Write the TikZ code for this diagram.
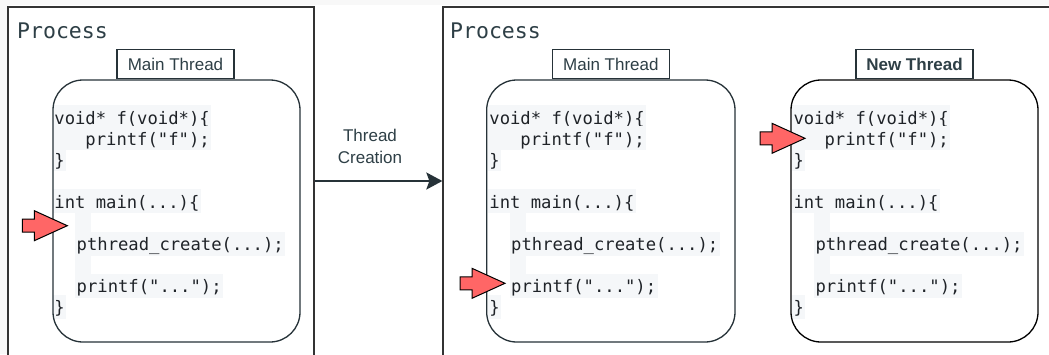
\documentclass[tikz,border=0pt]{standalone}
\usepackage{fontspec}
\newfontfamily\codefont{DejaVu Sans Mono}
\newfontfamily\labelfont{Liberation Sans}
\usetikzlibrary{arrows.meta}

\definecolor{pagegray}{HTML}{F8F8F8}
\definecolor{framegray}{HTML}{333333}
\definecolor{slate}{HTML}{2E3F46}
\definecolor{slateline}{HTML}{263238}
\definecolor{codebg}{HTML}{F5F7F9}
\definecolor{codeink}{HTML}{1F2328}
\definecolor{pointred}{HTML}{FF6666}

\tikzset{
  procframe/.style={draw=framegray, line width=1.3pt, fill=white, inner sep=0pt},
  proctitle/.style={font=\codefont\fontsize{21.5}{24}\selectfont, text=slate, inner sep=0pt, anchor=base west},
  code/.style={font=\codefont\fontsize{17.2}{21}\selectfont, text=codeink, fill=codebg,
    inner xsep=1.5pt, inner ysep=0pt, text height=19pt, text depth=5pt, anchor=base west},
  threadbox/.style={draw=slateline, line width=1.3pt, rounded corners=30pt,
    minimum width=247pt, minimum height=262pt, inner sep=0pt},
  threadlabel/.style={draw=slateline, line width=1.2pt, fill=white, text=slate,
    font=\labelfont\fontsize{17}{20}\selectfont, minimum width=117pt, minimum height=29pt,
    inner sep=0pt, anchor=south},
  caption/.style={font=\labelfont\fontsize{17}{22}\selectfont, text=slate, align=center, inner sep=0pt},
  flow/.style={draw=slateline, line width=2pt, -{Stealth[length=16pt, width=17pt, inset=3pt]}},
  pointerstyle/.style={draw=black, line width=1pt, fill=pointred, line join=miter},
  pointer/.pic={
    \path[pointerstyle] (0,0) -- (-33,-15) -- (-33,-6.5) -- (-45,-6.5)
      -- (-45,6.5) -- (-33,6.5) -- (-33,15) -- cycle;
  }
}

% Code listing: #1 = left edge of the listing, #2 = left edge of the indented block, #3 = name prefix
\newcommand\codelisting[3]{%
  \node[code] (#3-0) at (#1,124) {void* f(void*)\{};
  \node[code] (#3-1) at (#1,145.1) {\hphantom{xxx}printf("f");};
  \node[code] (#3-2) at (#1,166.2) {\}};
  \node[code] (#3-4) at (#1,208.4) {int main(...)\{};
  \fill[codebg] (#2,213.4) rectangle ++(16,18.2);
  \node[code] (#3-6) at (#2,250.6) {pthread\_create(...);};
  \fill[codebg] (#2,255.6) rectangle ++(16,18.2);
  \node[code] (#3-8) at (#2,292.8) {printf("...");};
  \node[code] (#3-9) at (#1,313.9) {\}};
}

\begin{document}
\begin{tikzpicture}[x=1pt, y=-1pt]
  \useasboundingbox (0,0) rectangle (1049,354);
  \clip (0,0) rectangle (1049,354);

  % page background
  \fill[pagegray] (0,0) rectangle (1049,354);
  \fill[white] (8,5) rectangle (1049,354);

  % the two process frames
  \node[procframe, minimum width=306pt, minimum height=353pt] (procL) at (161,183.5) {};
  \node[procframe, minimum width=617pt, minimum height=353pt] (procR) at (751.5,183.5) {};
  \node[proctitle] (procLtitle) at (17,38) {Process};
  \node[proctitle] (procRtitle) at (450,38) {Process};

  % source listings
  \codelisting{52.7}{75}{a}
  \codelisting{487.7}{509.5}{b}
  \codelisting{791.8}{813.8}{c}

  % thread boxes
  \node[threadbox] (mainL) at (176.5,211) {};
  \node[threadbox, minimum width=248.3pt] (mainR) at (610.85,211) {};
  \node[threadbox, draw=black] (newT) at (914.5,211) {};

  \node[threadlabel] (mainLlabel) at ([xshift=-1pt]mainL.north) {Main Thread};
  \node[threadlabel] (mainRlabel) at (mainR.north) {Main Thread};
  \node[threadlabel] (newTlabel) at (newT.north) {\bfseries New Thread};

  % execution pointers
  \pic at (67.3,225.7) {pointer};
  \pic at (505,283.3) {pointer};
  \pic at (805,138.3) {pointer};

  % thread creation step
  \draw[flow] ([yshift=2.5pt]procL.east) -- ([yshift=2.5pt]procR.west);
  \node[caption] (creation) at (370,146) {Thread\\Creation};
\end{tikzpicture}
\end{document}
